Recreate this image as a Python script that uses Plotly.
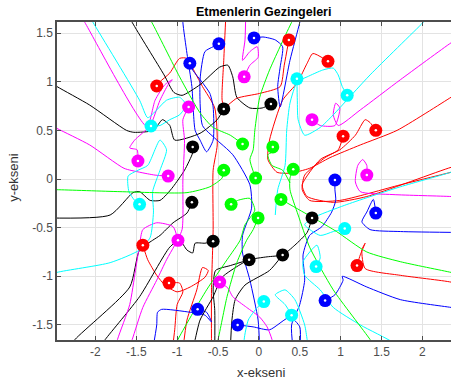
import plotly.graph_objects as go

# ---- final positions (markers) ----
red_end_x = [-1.25, 0.367, 0.845, 1.03, 1.43, -1.42, -1.10, 1.20]
red_end_y = [0.956, 1.43, 1.21, 0.44, 0.50, -0.68, -1.07, -0.89]
blue_end_x = [-0.845, -0.49, -0.06, 0.93, 1.43, -0.75, -0.26, 0.81]
blue_end_y = [1.19, 1.39, 1.45, -0.01, -0.35, -1.34, -1.50, -1.25]
black_end_x = [-0.43, 0.147, -0.81, -0.82, -0.56, -0.12, 0.29, 0.65]
black_end_y = [0.72, 0.77, 0.33, -0.24, -0.64, -0.83, -0.78, -0.40]
magenta_end_x = [-0.86, -0.18, -1.48, -1.11, -0.99, -0.48, 0.65, 1.32]
magenta_end_y = [0.74, 1.05, 0.185, 0.03, -0.63, -1.06, 0.61, 0.04]
cyan_end_x = [-1.32, -1.46, 0.465, 1.08, 1.05, 0.70, 0.06, 0.40]
cyan_end_y = [0.545, -0.26, 1.03, 0.86, -0.51, -0.90, -1.26, -1.40]
green_end_x = [-0.20, 0.17, -0.43, -0.04, 0.42, -0.34, 0.27, -0.01]
green_end_y = [0.36, 0.33, 0.09, 0.01, 0.10, -0.26, -0.21, -0.40]

# ---- trajectories (waypoints before the final position) ----
red_paths = [
    [(-0.58, -1.76), (-0.58, -1.14), (-0.56, -0.52), (-0.56, 0.09), (-0.51, 0.35), (-0.54, 0.73),
     (-0.69, 0.95), (-0.78, 1.09), (-0.88, 1.24), (-0.97, 1.24), (-1.09, 1.09), (-1.21, 1.00)],
    [(-0.40, 1.76), (-0.43, 1.22), (-0.45, 0.81), (-0.42, 0.74), (-0.27, 0.83), (0.01, 0.88),
     (0.26, 0.95), (0.31, 1.17)],
    [(2.5, 0.92), (2.35, 0.84), (1.69, 0.50), (1.24, 0.35), (0.87, 0.22), (0.62, 0.11), (0.38, 0.06),
     (0.22, 0.07), (0.11, 0.20), (0.13, 0.40), (0.29, 0.81), (0.47, 0.99), (0.59, 1.19), (0.66, 1.29)],
    [(2.5, 0.10), (1.73, -0.06), (0.99, -0.22), (0.62, -0.22), (0.53, -0.11), (0.56, 0.04),
     (0.81, 0.22), (0.97, 0.30)],
    [(2.5, 0.15), (2.35, 0.12), (1.32, -0.18), (0.91, -0.24), (0.59, -0.18), (0.53, -0.06),
     (0.75, 0.20), (0.99, 0.30), (1.18, 0.45), (1.30, 0.61), (1.36, 0.58)],
    [(-0.93, -1.76), (-0.88, -1.45), (-0.76, -1.14), (-0.69, -0.91), (-0.62, -0.94), (-0.66, -1.01),
     (-0.84, -1.11), (-1.00, -1.16), (-1.15, -1.09), (-1.25, -0.99), (-1.36, -0.83)],
    [(-1.06, -1.76), (-1.03, -1.55), (-1.00, -1.29), (-0.93, -1.16), (-0.97, -1.07)],
    [(2.5, -1.10), (2.35, -1.06), (1.73, -0.99), (1.30, -0.92), (1.26, -0.73), (1.30, -0.66),
     (1.24, -0.78)],
]
blue_paths = [
    [(-0.93, 1.76), (-0.93, 1.61), (-0.88, 1.29), (-0.82, 0.95), (-0.78, 0.50), (-0.72, 0.40),
     (-0.64, 0.28), (-0.56, 0.40), (-0.56, 0.74), (-0.60, 0.88), (-0.69, 0.99), (-0.81, 1.12)],
    [(0.01, -1.76), (-0.01, -1.45), (-0.11, -1.04), (-0.20, -0.76), (-0.20, -0.58), (-0.09, -0.30),
     (-0.11, -0.06), (-0.32, 0.25), (-0.54, 0.42), (-0.69, 0.55), (-0.72, 1.02), (-0.66, 1.31),
     (-0.56, 1.36)],
    [(0.54, 1.76), (0.50, 1.61), (0.38, 1.22), (0.26, 0.74), (0.23, 0.95), (0.26, 1.15),
     (0.29, 1.36), (0.20, 1.43), (0.05, 1.46)],
    [(0.42, -1.76), (0.40, -1.50), (0.50, -1.29), (0.56, -1.04), (0.54, -0.78), (0.62, -0.58),
     (0.77, -0.49), (0.89, -0.34), (0.94, -0.22), (0.93, -0.11)],
    [(2.5, -0.55), (1.73, -0.54), (1.36, -0.52), (1.26, -0.44), (1.32, -0.34), (1.40, -0.21)],
    [(-1.30, -1.76), (-1.25, -1.50), (-1.24, -1.37), (-1.19, -1.34), (-0.84, -1.37), (-0.66, -1.40),
     (-0.58, -1.47), (-0.64, -1.37)],
    [(0.50, -1.76), (0.50, -1.52), (0.38, -1.42), (0.13, -1.55), (-0.07, -1.52)],
    [(2.5, -1.34), (2.35, -1.32), (1.73, -1.24), (1.32, -1.11), (1.02, -1.00), (1.03, -1.04),
     (0.93, -1.19)],
]
black_paths = [
    [(-2.6, 1.02), (-2.47, 0.95), (-2.07, 0.76), (-1.62, 0.50), (-1.53, 0.48), (-1.29, 0.50),
     (-1.18, 0.61), (-1.09, 0.55), (-1.03, 0.40), (-0.72, 0.47), (-0.51, 0.61)],
    [(-1.64, 1.76), (-1.55, 1.61), (-1.16, 1.07), (-1.04, 0.89), (-0.94, 0.86), (-0.72, 0.97),
     (-0.48, 1.15), (-0.38, 1.17), (-0.32, 1.05), (-0.27, 0.84), (-0.11, 0.73), (0.04, 0.73)],
    [(-2.6, -0.40), (-1.82, -0.37), (-1.54, -0.14), (-1.46, -0.13), (-1.33, -0.22), (-1.21, -0.22),
     (-1.13, -0.16), (-1.05, -0.08), (-0.91, 0.09), (-0.81, 0.27)],
    [(-2.34, -1.76), (-2.25, -1.65), (-1.58, -1.11), (-1.46, -0.73), (-1.30, -0.63), (-1.21, -0.58),
     (-1.05, -0.45), (-0.88, -0.35)],
    [(-1.97, -1.76), (-1.88, -1.65), (-1.46, -1.21), (-1.09, -0.70), (-0.97, -0.63), (-0.88, -0.73),
     (-0.81, -0.76), (-0.78, -0.66), (-0.66, -0.66)],
    [(-0.54, -1.76), (-0.54, -1.35), (-0.56, -1.14), (-0.53, -0.94), (-0.35, -0.89)],
    [(-0.35, -1.76), (-0.33, -1.45), (-0.29, -1.24), (-0.17, -1.09), (0.13, -0.94)],
    [(-0.81, -1.76), (-0.78, -1.65), (-0.72, -1.45), (-0.56, -1.21), (-0.45, -1.01), (-0.23, -0.88),
     (-0.12, -0.83), (0.10, -0.80), (0.29, -0.78), (0.44, -0.68), (0.59, -0.55)],
]
magenta_paths = [
    [(-1.60, -1.76), (-1.55, -1.65), (-1.42, -1.32), (-1.25, -1.04), (-1.13, -0.83), (-1.03, -0.68),
     (-0.94, -0.52), (-0.93, -0.01), (-0.91, 0.40), (-0.93, 0.61)],
    [(-0.16, 1.76), (-0.17, 1.43), (-0.20, 1.22), (-0.11, 1.31), (-0.02, 1.36), (-0.01, 1.25),
     (-0.11, 1.17)],
    [(-2.24, 1.76), (-2.13, 1.61), (-1.37, 0.54), (-1.27, 0.81), (-1.15, 0.97), (-1.06, 1.02),
     (-1.11, 0.97), (-1.21, 0.81), (-1.33, 0.55), (-1.52, 0.40), (-1.58, 0.32), (-1.49, 0.30)],
    [(-2.6, 0.58), (-2.47, 0.52), (-2.07, 0.35), (-1.65, 0.11), (-1.46, 0.07), (-1.27, 0.04)],
    [(-1.76, -1.76), (-1.73, -1.65), (-1.58, -1.29), (-1.51, -0.94), (-1.46, -0.68), (-1.42, -0.52),
     (-1.25, -0.45), (-1.05, -0.49)],
    [(0.18, -1.76), (0.16, -1.65), (0.10, -1.52), (0.01, -1.42), (-0.15, -1.32), (-0.32, -1.21),
     (-0.38, -1.12)],
    [(2.5, 1.48), (2.35, 1.40), (1.73, 1.02), (1.24, 0.71), (0.97, 0.55), (0.91, 0.66), (0.94, 0.78),
     (0.99, 0.73), (0.93, 0.55), (0.75, 0.55)],
    [(2.5, -0.19), (2.35, -0.18), (1.64, -0.16), (1.24, -0.13), (1.18, -0.03), (1.21, 0.14),
     (1.27, 0.20), (1.32, 0.14)],
]
cyan_paths = [
    [(-2.14, 1.76), (-2.03, 1.61), (-1.46, 0.81), (-1.36, 0.63), (-1.25, 0.71), (-1.13, 0.81),
     (-0.97, 0.84), (-0.89, 0.76), (-0.97, 0.66), (-1.09, 0.61), (-1.21, 0.55)],
    [(-2.6, -1.00), (-2.47, -0.96), (-1.82, -0.86), (-1.46, -0.73), (-1.33, -0.60), (-1.29, -0.34),
     (-1.30, -0.13), (-1.21, 0.09), (-1.13, 0.30), (-1.21, 0.40), (-1.36, 0.14), (-1.48, 0.09),
     (-1.60, 0.03), (-1.59, -0.13), (-1.52, -0.22)],
    [(2.18, 1.76), (2.01, 1.61), (1.36, 1.07), (0.91, 0.66), (0.75, 0.53), (0.56, 0.45), (0.48, 0.61),
     (0.47, 0.81)],
    [(0.20, -0.37), (0.23, -0.11), (0.32, 0.14), (0.34, 0.50), (0.38, 0.78), (0.47, 1.00), (0.59, 1.05),
     (0.78, 1.12), (0.91, 1.14), (0.97, 1.07), (1.02, 0.95)],
    [(2.5, 0.12), (2.35, 0.07), (1.73, -0.08), (1.05, -0.27), (0.66, -0.40), (0.56, -0.47),
     (0.75, -0.58), (0.91, -0.54)],
    [(1.73, -1.76), (1.64, -1.68), (1.24, -1.50), (0.91, -1.32), (0.75, -1.14), (0.56, -0.99),
     (0.54, -0.85), (0.71, -0.68), (0.75, -0.81)],
    [(-0.17, -1.76), (-0.18, -1.65), (-0.13, -1.45), (-0.02, -1.32)],
    [(0.61, -1.76), (0.59, -1.65), (0.56, -1.50), (0.44, -1.24), (0.32, -1.14), (0.20, -1.19),
     (0.32, -1.29)],
]
green_paths = [
    [(-1.42, 1.76), (-1.31, 1.61), (-0.97, 1.05), (-0.72, 0.68), (-0.56, 0.53), (-0.35, 0.45)],
    [(0.38, -0.04), (0.29, 0.09), (0.16, 0.14), (0.11, 0.25), (0.23, 0.30)],
    [(-2.6, -0.11), (-2.47, -0.11), (-1.70, -0.13), (-0.88, -0.14), (-0.60, -0.08), (-0.45, 0.01)],
    [(0.50, 1.76), (0.40, 1.61), (0.13, 1.12), (0.01, 0.84), (-0.05, 0.50), (-0.07, 0.30),
     (-0.11, 0.20)],
    [(1.44, -1.76), (1.36, -1.65), (0.91, -1.14), (0.62, -0.70), (0.48, -0.37), (0.38, -0.11),
     (0.38, 0.01)],
    [(-1.04, -1.76), (-0.99, -1.65), (-0.64, -1.14), (-0.39, -0.83), (-0.23, -0.63), (-0.17, -0.47),
     (-0.05, -0.32), (-0.11, -0.20), (-0.26, -0.22)],
    [(2.5, -0.99), (2.35, -0.96), (1.73, -0.85), (1.32, -0.75), (0.95, -0.54), (0.75, -0.44),
     (0.50, -0.32)],
    [(-0.54, -1.76), (-0.50, -1.65), (-0.39, -1.21), (-0.27, -0.86), (-0.15, -0.63), (-0.07, -0.52)],
]

x_tick_vals = [-2, -1.5, -1, -0.5, 0, 0.5, 1, 1.5, 2]
x_tick_text = ["-2", "-1.5", "-1", "-0.5", "0", "0.5", "1", "1.5", "2"]
y_tick_vals = [-1.5, -1, -0.5, 0, 0.5, 1, 1.5]
y_tick_text = ["-1.5", "-1", "-0.5", "0", "0.5", "1", "1.5"]

groups = [
    ("#ff0000", red_paths, red_end_x, red_end_y),
    ("#0000ff", blue_paths, blue_end_x, blue_end_y),
    ("#000000", black_paths, black_end_x, black_end_y),
    ("#ff00ff", magenta_paths, magenta_end_x, magenta_end_y),
    ("#00ffff", cyan_paths, cyan_end_x, cyan_end_y),
    ("#00ff00", green_paths, green_end_x, green_end_y),
]

fig = go.Figure()
for color, paths, ex, ey in groups:
    for path, fx, fy in zip(paths, ex, ey):
        xs = [p[0] for p in path] + [fx]
        ys = [p[1] for p in path] + [fy]
        fig.add_trace(go.Scatter(x=xs, y=ys, mode="lines",
                                 line=dict(color=color, width=1, shape="spline", smoothing=0.6),
                                 hoverinfo="skip"))
for color, paths, ex, ey in groups:
    fig.add_trace(go.Scatter(x=ex, y=ey, mode="markers",
                             marker=dict(color=color, size=13, line=dict(width=0))))
    fig.add_trace(go.Scatter(x=ex, y=ey, mode="markers",
                             marker=dict(color="white", size=2.5, line=dict(width=0))))

FONT = "Liberation Sans, Arial, sans-serif"
axis_font = dict(family=FONT, size=12, color="#4d4d4d")
fig.update_layout(
    width=451, height=382,
    margin=dict(l=57, r=0, t=22, b=42, autoexpand=False),
    paper_bgcolor="white", plot_bgcolor="white",
    showlegend=False,
    font=dict(family=FONT, color="#262626"),
    annotations=[
        dict(text="<b>Etmenlerin Gezingeleri</b>", xref="paper", yref="paper",
             x=0.523, y=1.0, yshift=10, xanchor="center", yanchor="middle", showarrow=False,
             font=dict(size=12.5, color="#000000", family=FONT)),
        dict(text="x-ekseni", xref="paper", yref="paper",
             x=0.52, y=0.0, yshift=-32, xanchor="center", yanchor="middle", showarrow=False,
             font=dict(size=13, color="#333333", family=FONT)),
        dict(text="y-ekseni", xref="paper", yref="paper", textangle=-90,
             x=0.0, y=0.51, xshift=-43, xanchor="center", yanchor="middle", showarrow=False,
             font=dict(size=13, color="#333333", family=FONT)),
    ],
)
fig.update_xaxes(range=[-2.47, 2.35], tickvals=x_tick_vals, ticktext=x_tick_text,
                 showgrid=True, gridcolor="#e3e3e3", gridwidth=1, zeroline=False,
                 showline=True, linecolor="#4d4d4d", linewidth=1.5, mirror="ticks",
                 ticks="inside", ticklen=4, tickcolor="#4d4d4d", tickfont=axis_font,
                 automargin=False)
fig.update_yaxes(range=[-1.655, 1.614], tickvals=y_tick_vals, ticktext=y_tick_text,
                 showgrid=True, gridcolor="#e3e3e3", gridwidth=1, zeroline=False,
                 showline=True, linecolor="#4d4d4d", linewidth=1.5,
                 ticks="inside", ticklen=4, tickcolor="#4d4d4d", tickfont=axis_font,
                 automargin=False)

fig.write_html("out.html", config={"displayModeBar": False},
               post_script="document.body.style.margin='0';document.body.style.overflow='hidden';")
